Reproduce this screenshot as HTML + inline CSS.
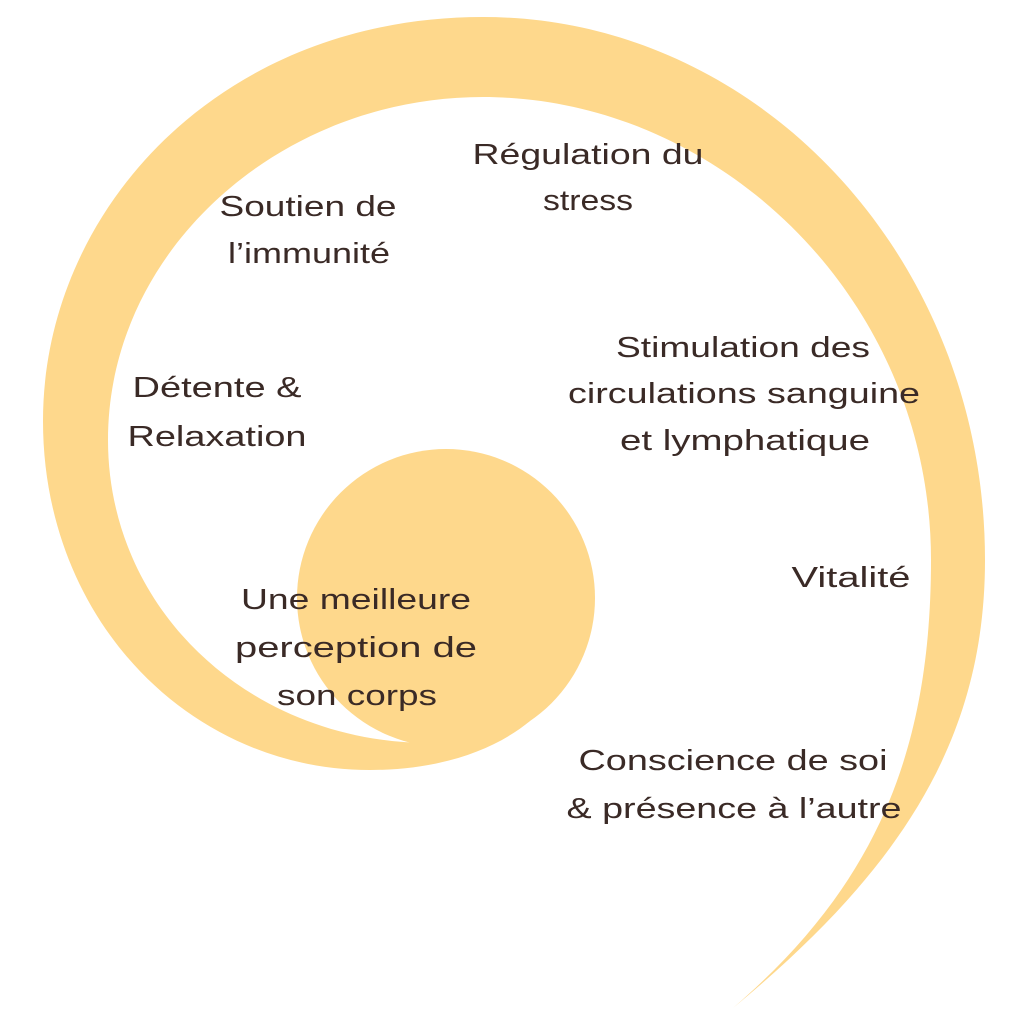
<!DOCTYPE html>
<html><head><meta charset="utf-8"><style>
html,body{margin:0;padding:0;background:#fff;}
svg{display:block;}
text{font-family:"Liberation Sans",sans-serif;font-size:29px;fill:#3a2a26;text-anchor:middle;}
</style></head><body>
<svg width="1024" height="1024" viewBox="0 0 1024 1024" xmlns="http://www.w3.org/2000/svg">
<path fill="#FED88C" d="M733,1008 C900,870 985,740 985,560 C985,260 760,17 483,17 C220,17 43,210 43,421 C43,620 190,770 370,770 C440,770 495,750 530,721 L430,743 C250,743 108,610 108,440 C108,250 280,97 483,97 C720,97 931,300 931,560 C931,760 870,890 733,1008 Z"/>
<circle cx="446" cy="598" r="149" fill="#FED88C"/>
<text x="588" y="164" textLength="231" lengthAdjust="spacingAndGlyphs">Régulation du</text>
<text x="588" y="210" textLength="90" lengthAdjust="spacingAndGlyphs">stress</text>
<text x="308" y="216" textLength="177" lengthAdjust="spacingAndGlyphs">Soutien de</text>
<text x="309" y="263" textLength="162" lengthAdjust="spacingAndGlyphs">l’immunité</text>
<text x="217" y="397" textLength="169" lengthAdjust="spacingAndGlyphs">Détente &amp;</text>
<text x="217" y="446" textLength="179" lengthAdjust="spacingAndGlyphs">Relaxation</text>
<text x="743" y="357" textLength="254" lengthAdjust="spacingAndGlyphs">Stimulation des</text>
<text x="744" y="403" textLength="352" lengthAdjust="spacingAndGlyphs">circulations sanguine</text>
<text x="745" y="450" textLength="250" lengthAdjust="spacingAndGlyphs">et lymphatique</text>
<text x="851" y="587" textLength="119" lengthAdjust="spacingAndGlyphs">Vitalité</text>
<text x="356" y="609" textLength="230" lengthAdjust="spacingAndGlyphs">Une meilleure</text>
<text x="356" y="657" textLength="242" lengthAdjust="spacingAndGlyphs">perception de</text>
<text x="357" y="705" textLength="160" lengthAdjust="spacingAndGlyphs">son corps</text>
<text x="733" y="770" textLength="309" lengthAdjust="spacingAndGlyphs">Conscience de soi</text>
<text x="734" y="818" textLength="335" lengthAdjust="spacingAndGlyphs">&amp; présence à l’autre</text>
</svg>
</body></html>
